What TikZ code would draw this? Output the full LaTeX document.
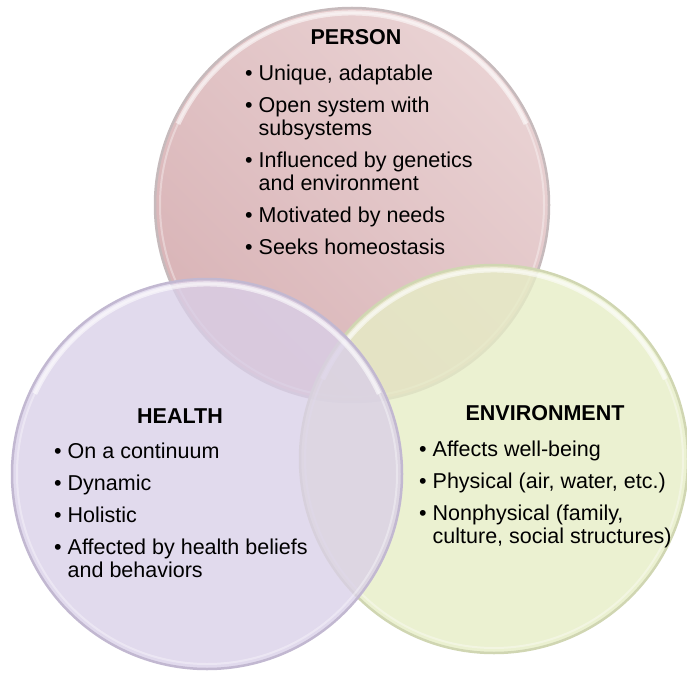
\documentclass[tikz,border=0pt]{standalone}
\usepackage{fontspec}
\setmainfont{Liberation Sans}
\definecolor{personfill}{RGB}{217,180,183}
\definecolor{personlight}{RGB}{233,210,211}
\definecolor{personrim}{RGB}{198,186,188}
\definecolor{healthfill}{RGB}{217,207,232}
\definecolor{healthrim}{RGB}{194,184,209}
\definecolor{envfill}{RGB}{230,237,198}
\definecolor{envrim}{RGB}{208,214,178}
\newcommand\bodysize{\fontsize{21.5}{23}\selectfont}
\newcommand\itemdot{\textbullet\ }
\newcommand\itemcont{\hphantom{\textbullet\ }}
\tikzset{
  ball/.style={circle, inner sep=0pt, outer sep=0pt, line width=2.5pt},
  bevel/.style={draw=white, line width=2pt, draw opacity=0.35},
  glint/.style={draw=white, line width=5pt, draw opacity=0.55},
  title/.style={font=\bodysize\bfseries, inner sep=0pt, anchor=base},
  facts/.style={font=\bodysize, align=left, inner sep=0pt, anchor=base west},
}
\begin{document}
\begin{tikzpicture}[x=1pt, y=1pt]
  \useasboundingbox (0,0) rectangle (687,673);
  \node[ball, minimum size=394pt, left color=personfill, right color=personlight,
    shading angle=135, draw=personrim] (person) at (352,468) {};
  \draw[bevel] (person.center) circle (192);
  \draw[glint] (person.center) ++(25:192) arc (25:155:192);
  \node[ball, minimum size=388pt, fill=envfill, fill opacity=0.8, draw=envrim]
    (environment) at (494,214) {};
  \draw[bevel] (environment.center) circle (189);
  \draw[glint] (environment.center) ++(25:189) arc (25:155:189);
  \node[ball, minimum size=390pt, fill=healthfill, fill opacity=0.78, draw=healthrim]
    (health) at (207,199) {};
  \draw[bevel] (health.center) circle (190);
  \draw[glint] (health.center) ++(25:190) arc (25:155:190);

  \node[title] (persontitle) at (356,628) {PERSON};
  \node[facts] (personlist) at (245,418) {%
    \itemdot Unique, adaptable\\[9pt]
    \itemdot Open system with\\
    \itemcont subsystems\\[9pt]
    \itemdot Influenced by genetics\\
    \itemcont and environment\\[9pt]
    \itemdot Motivated by needs\\[9pt]
    \itemdot Seeks homeostasis};
  \node[title] (healthtitle) at (180,250) {HEALTH};
  \node[facts] (healthlist) at (54,96) {%
    \itemdot On a continuum\\[9pt]
    \itemdot Dynamic\\[9pt]
    \itemdot Holistic\\[9pt]
    \itemdot Affected by health beliefs\\
    \itemcont and behaviors};
  \node[title] (envtitle) at (545,253) {ENVIRONMENT};
  \node[facts] (envlist) at (419,130) {%
    \itemdot Affects well-being\\[9pt]
    \itemdot Physical (air, water, etc.)\\[9pt]
    \itemdot Nonphysical (family,\\
    \itemcont culture, social structures)};
\end{tikzpicture}
\end{document}
